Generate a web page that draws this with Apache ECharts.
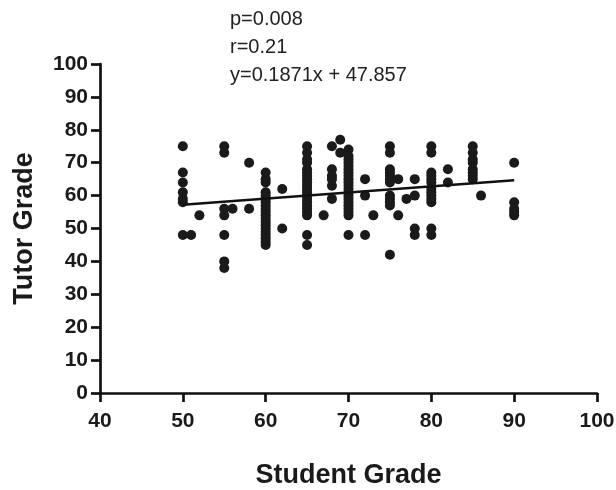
<!DOCTYPE html>
<html style="height: 100%">
<head>
<meta charset="utf-8">
<script src="https://cdn.jsdelivr.net/npm/echarts@6/dist/echarts.min.js"></script>
<title>Tutor vs Student Grade</title>
</head>
<body style="height: 100%; margin: 0; background: #fff">
<div id="container" style="width: 616px; height: 490px"></div>
<script type="text/javascript">

// student grade columns and the tutor grades read at each one
const studentGrade = [50, 51, 52, 55, 56, 58, 60, 62, 65, 67, 68, 69, 70, 72, 73, 75, 76, 77, 78, 80, 82, 85, 86, 90];
const tutorGrade = [
  [75, 67, 64, 61, 59, 58, 48],
  [48],
  [54],
  [75, 73, 56, 54, 48, 40, 38],
  [56],
  [70, 56],
  [67, 65, 64, 61, 60, 59, 58, 57, 56, 55, 54, 53, 52, 51, 50, 49, 48, 47, 46, 45],
  [62, 50],
  [75, 73, 71, 70, 68, 67, 66, 65, 64, 63, 62, 61, 60, 59, 58, 57, 56, 55, 54, 48, 45],
  [54],
  [75, 68, 66, 65, 63, 59],
  [77, 73],
  [74, 72, 71, 70, 69, 68, 67, 66, 65, 64, 63, 62, 61, 60, 59, 58, 57, 56, 55, 54, 48],
  [65, 60, 48],
  [54],
  [75, 73, 68, 67, 66, 65, 64, 60, 59, 58, 57, 42],
  [65, 54],
  [59],
  [65, 60, 50, 48],
  [75, 73, 67, 66, 65, 64, 62, 61, 60, 59, 58, 50, 48],
  [68, 64],
  [75, 73, 71, 70, 68, 67, 66, 65],
  [60],
  [70, 58, 56, 55, 54]
];
// fitted line end points
const fitX = [50, 90];
const fitY = [57.2, 64.7];
const statsText = ['p=0.008', 'r=0.21', 'y=0.1871x + 47.857'];

const points = [];
studentGrade.forEach(function (x, i) {
  tutorGrade[i].forEach(function (y) { points.push([x, y]); });
});
const fitLine = fitX.map(function (x, i) { return [x, fitY[i]]; });

const chart = echarts.init(document.getElementById('container'));
const font = 'Liberation Sans, Arial, sans-serif';
const axisCommon = {
  type: 'value',
  nameLocation: 'middle',
  nameTextStyle: { fontFamily: font, fontWeight: 'bold', fontSize: 27, color: '#1a1a1a' },
  axisLine: { show: true, lineStyle: { color: '#111', width: 2.7 } },
  axisTick: { show: true, length: 9, lineStyle: { color: '#111', width: 2.7 } },
  axisLabel: { fontFamily: font, fontWeight: 'bold', fontSize: 21, color: '#1a1a1a' },
  splitLine: { show: false }
};

chart.setOption({
  animation: false,
  title: {
    text: statsText.join('\n'),
    left: 225,
    top: 0,
    textStyle: { fontFamily: font, fontWeight: 'normal', fontSize: 20, color: '#222', lineHeight: 28 }
  },
  grid: { left: 100, right: 19, top: 64, bottom: 97, outerBoundsMode: 'none' },
  xAxis: Object.assign({}, axisCommon, {
    name: 'Student Grade',
    nameGap: 69,
    min: 40, max: 100, interval: 10,
    axisLabel: Object.assign({}, axisCommon.axisLabel, { margin: 18 })
  }),
  yAxis: Object.assign({}, axisCommon, {
    name: 'Tutor Grade',
    nameGap: 62,
    min: 0, max: 100, interval: 10,
    axisLabel: Object.assign({}, axisCommon.axisLabel, { margin: 12 })
  }),
  series: [
    {
      type: 'scatter',
      data: points,
      symbolSize: 10,
      itemStyle: { color: '#1a1a1a', opacity: 1 }
    },
    {
      type: 'line',
      data: fitLine,
      symbol: 'none',
      lineStyle: { color: '#111', width: 2.5 },
      z: 3
    }
  ]
});
</script>
</body>
</html>
